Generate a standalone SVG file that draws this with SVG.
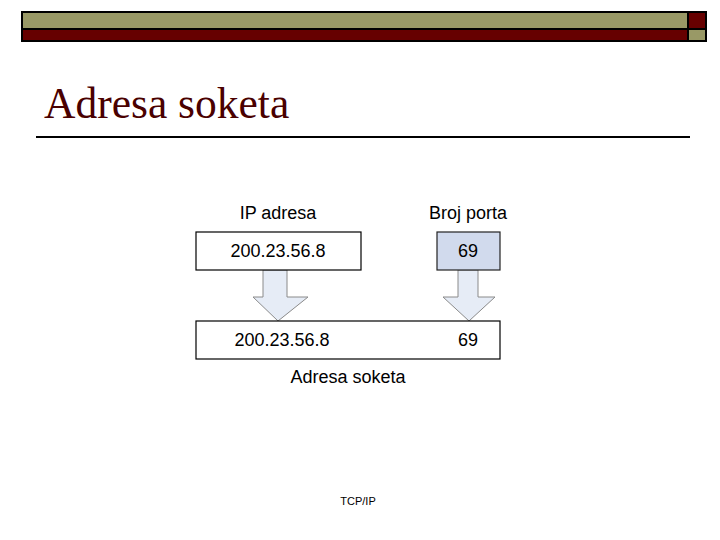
<svg xmlns="http://www.w3.org/2000/svg" width="720" height="540" viewBox="0 0 720 540">
<style>
.lbl{font-family:"Liberation Sans",Arial,sans-serif;font-size:18px;fill:#000;text-anchor:middle}
.box{fill:#fff;stroke:#000;stroke-width:1.2}
.arr{fill:#e6ecf6;stroke:#8a8a8a;stroke-width:1}
</style>
<rect width="720" height="540" fill="#fff"/>
<g id="header">
<rect x="22" y="12" width="666" height="17" fill="#999966" stroke="#000" stroke-width="2"/>
<rect x="22" y="29" width="666" height="12" fill="#660000" stroke="#000" stroke-width="2"/>
<rect x="688" y="12" width="18" height="17" fill="#660000" stroke="#000" stroke-width="2"/>
<rect x="688" y="29" width="18" height="12" fill="#999966" stroke="#000" stroke-width="2"/>
</g>
<text x="44" y="118" font-family="Liberation Serif,'Times New Roman',serif" font-size="43.5" fill="#4a0000">Adresa soketa</text>
<line x1="36" y1="137" x2="690" y2="137" stroke="#000" stroke-width="2"/>
<g id="connectors">
<path class="arr" d="M263 270 H287 V297 H308 L278 321 L253 297 H263 Z"/>
<path class="arr" d="M458 270 H478 V297 H495 L469 321 L443 297 H458 Z"/>
</g>
<g id="ip">
<rect class="box" x="196" y="232" width="165" height="38"/>
<text class="lbl" x="278" y="257">200.23.56.8</text>
<text class="lbl" x="278" y="219">IP adresa</text>
</g>
<g id="port">
<rect x="437" y="232" width="63" height="38" fill="#d1daed" stroke="#222" stroke-width="1.2"/>
<text class="lbl" x="468" y="257">69</text>
<text class="lbl" x="468" y="219">Broj porta</text>
</g>
<g id="socket">
<rect class="box" x="196" y="321" width="304" height="38"/>
<text class="lbl" x="282" y="346">200.23.56.8</text>
<text class="lbl" x="468" y="346">69</text>
<text class="lbl" x="348" y="383">Adresa soketa</text>
</g>
<text x="358" y="505" font-family="Liberation Sans,Arial,sans-serif" font-size="11" text-anchor="middle">TCP/IP</text>
</svg>
